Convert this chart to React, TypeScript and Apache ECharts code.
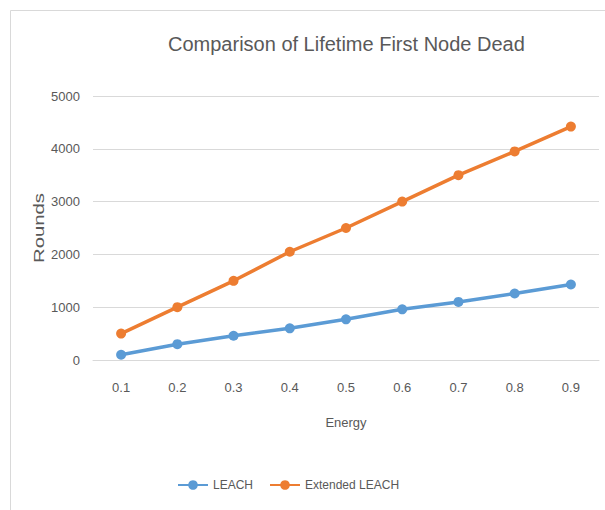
import React, { useEffect, useRef } from "react";
import * as echarts from "echarts";

const energyLevels = ["0.1", "0.2", "0.3", "0.4", "0.5", "0.6", "0.7", "0.8", "0.9"];
const leachRounds = [100, 300, 460, 600, 770, 960, 1100, 1260, 1430];
const extendedLeachRounds = [500, 1000, 1500, 2050, 2500, 3000, 3500, 3950, 4420];
const seriesNames = ["LEACH", "Extended LEACH"];
const seriesColors = ["#5B9BD5", "#ED7D31"];

const FONT = "'Liberation Sans', Arial, sans-serif";
const TEXT_COLOR = "#595959";

export default function App() {
  const ref = useRef<HTMLDivElement>(null);

  useEffect(() => {
    if (!ref.current) return;
    const chart = echarts.init(ref.current, undefined, { renderer: "svg" });
    const mkSeries = (name: string, data: number[], color: string) => ({
      name,
      type: "line",
      data,
      symbol: "circle",
      symbolSize: 10,
      lineStyle: { color, width: 3.5 },
      itemStyle: { color },
    });
    chart.setOption({
      animation: false,
      backgroundColor: "#ffffff",
      title: {
        text: "Comparison of Lifetime First Node Dead",
        left: 163,
        top: 29,
        textStyle: { fontFamily: FONT, fontSize: 20, fontWeight: "normal", color: TEXT_COLOR },
      },
      legend: {
        data: seriesNames,
        left: 172,
        top: 474,
        itemWidth: 30,
        itemHeight: 12,
        itemGap: 16,
        textStyle: { fontFamily: FONT, fontSize: 12, color: TEXT_COLOR },
      },
      grid: { left: 93, right: 6, top: 96, bottom: 150 },
      xAxis: {
        type: "category",
        data: energyLevels,
        boundaryGap: true,
        name: "Energy",
        nameLocation: "middle",
        nameGap: 56,
        nameTextStyle: { fontFamily: FONT, fontSize: 13, color: TEXT_COLOR },
        axisLine: { show: true, lineStyle: { color: "#D9D9D9", width: 1 } },
        axisTick: { show: false },
        axisLabel: { fontFamily: FONT, fontSize: 13, color: TEXT_COLOR, margin: 21 },
        splitLine: { show: false },
      },
      yAxis: {
        type: "value",
        min: 0,
        max: 5000,
        interval: 1000,
        axisLine: { show: false },
        axisTick: { show: false },
        axisLabel: {
          fontFamily: FONT,
          fontSize: 13,
          color: TEXT_COLOR,
          margin: 13,
          formatter: (v: number) => String(v),
        },
        splitLine: { lineStyle: { color: "#D9D9D9", width: 1 } },
      },
      graphic: [
        {
          type: "polyline",
          shape: { points: [[10.5, 510], [10.5, 10.5], [605, 10.5]] },
          style: { stroke: "#D9D9D9", lineWidth: 1, fill: null },
          silent: true,
        },
        {
          type: "text",
          x: 39,
          y: 228,
          rotation: Math.PI / 2,
          scaleX: 1.45,
          style: {
            text: "Rounds",
            font: "14px 'Liberation Sans', sans-serif",
            fill: TEXT_COLOR,
            align: "center",
            verticalAlign: "middle",
          },
        },
      ],
      series: [
        mkSeries(seriesNames[0], leachRounds, seriesColors[0]),
        mkSeries(seriesNames[1], extendedLeachRounds, seriesColors[1]),
      ],
    });
    return () => chart.dispose();
  }, []);

  return (
    <div
      ref={ref}
      style={{ position: "fixed", left: 0, top: 0, width: 605, height: 510 }}
    />
  );
}
